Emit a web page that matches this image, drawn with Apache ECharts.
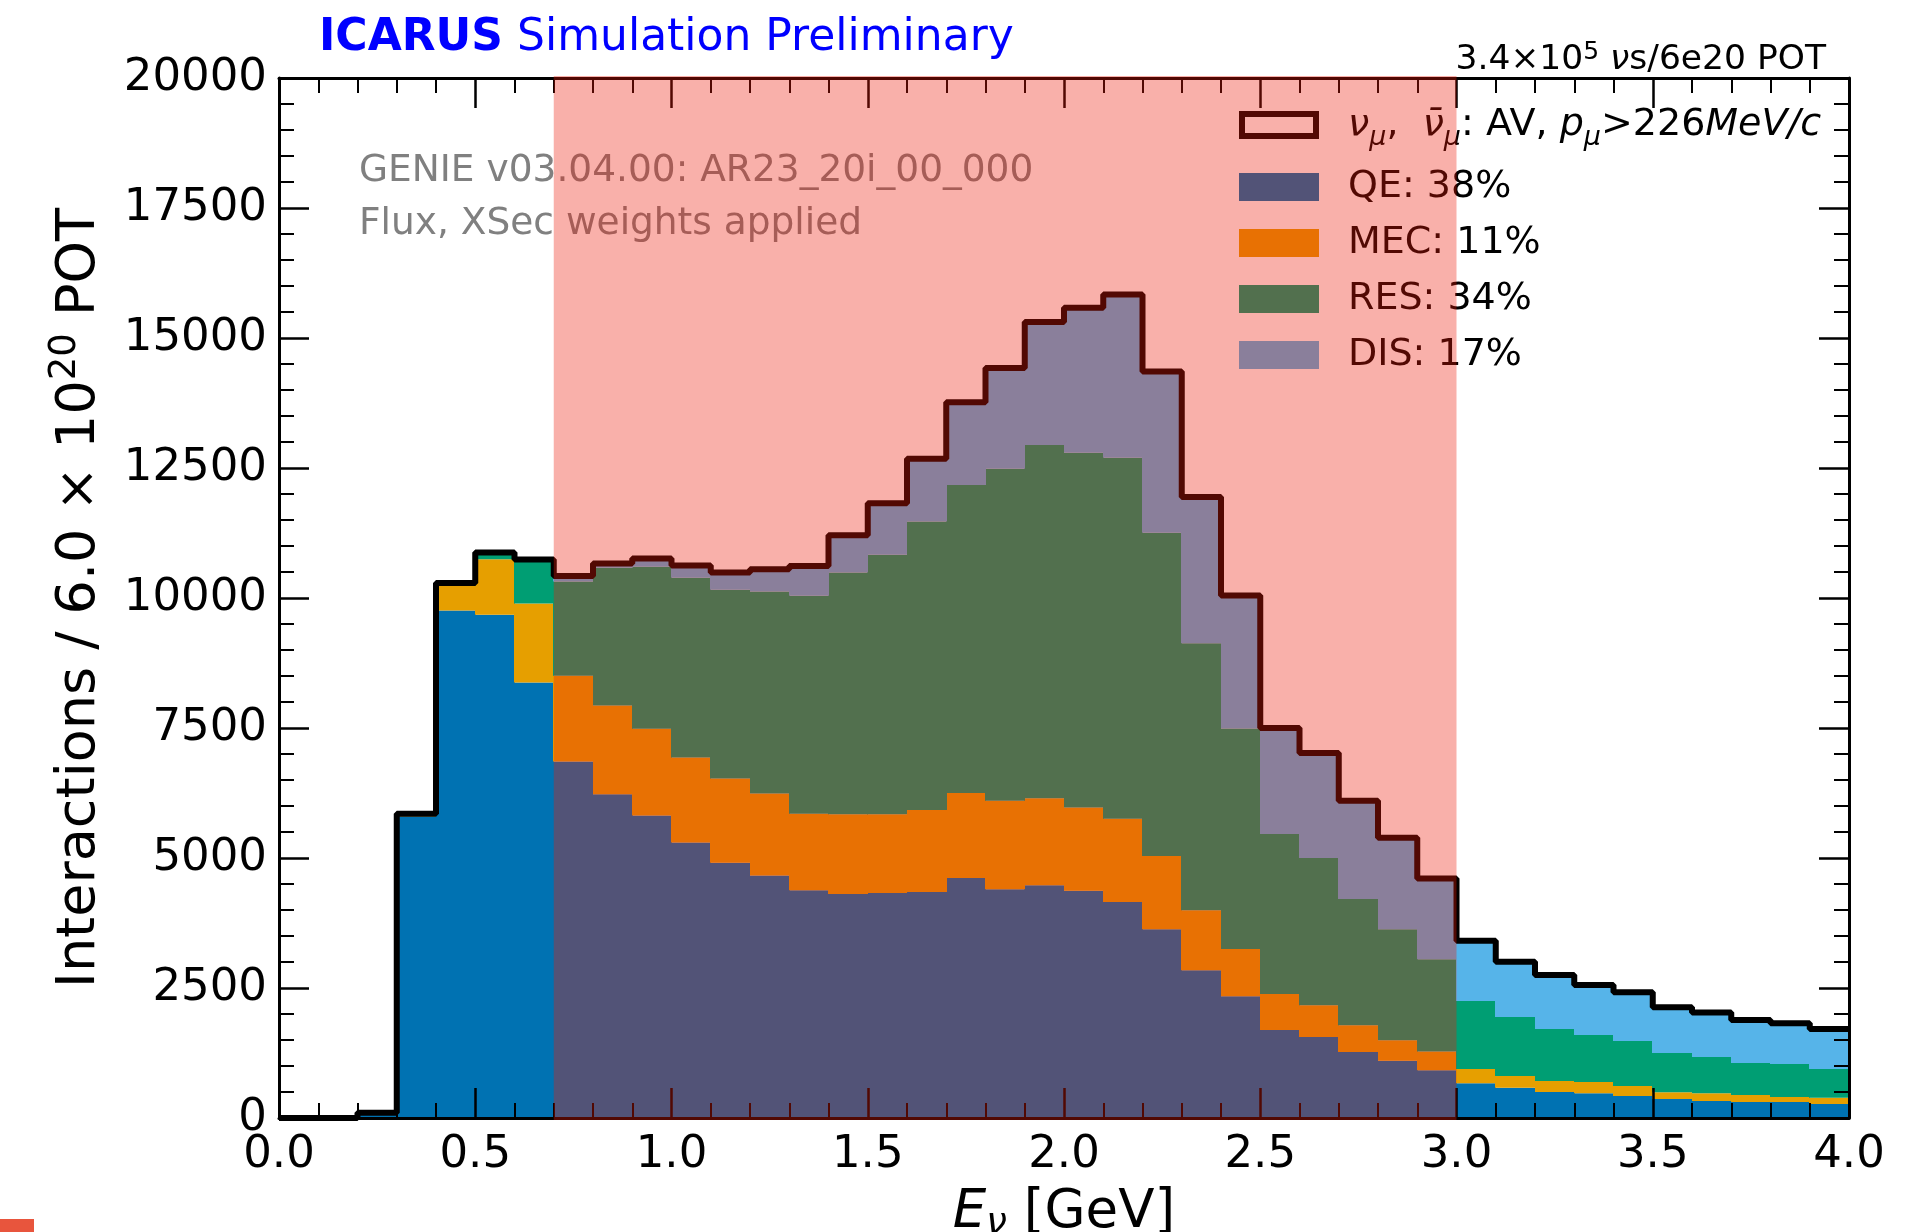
<!DOCTYPE html>
<html><head><meta charset="utf-8">
<script src="https://cdn.jsdelivr.net/npm/echarts@6/dist/echarts.min.js"></script>
<style>html,body{margin:0;padding:0;background:#fff}#c{width:1906px;height:1232px}</style>
</head><body><div id="c"></div>
<script>
// ---- data ----
const binEdges = [0.0,0.1,0.2,0.3,0.4,0.5,0.6,0.7,0.8,0.9,1.0,1.1,1.2,1.3,1.4,1.5,1.6,1.7,1.8,1.9,
  2.0,2.1,2.2,2.3,2.4,2.5,2.6,2.7,2.8,2.9,3.0,3.1,3.2,3.3,3.4,3.5,3.6,3.7,3.8,3.9,4.0];
const qe  = [0,0,90,5800,9760,9680,8375,6855,6225,5815,5300,4910,4665,4380,4310,4325,4345,4615,4400,4475,
  4370,4155,3630,2840,2340,1690,1560,1270,1100,920,667,583,500,474,423,365,327,308,308,269];
const mec = [0,0,10,30,480,1065,1520,1650,1710,1670,1635,1620,1575,1470,1530,1517,1580,1635,1700,1675,
  1600,1600,1410,1155,910,695,610,515,395,360,275,225,211,218,192,130,147,134,96,122];
const res = [0,0,0,20,50,130,845,1810,2645,3115,3455,3630,3885,4195,4650,4988,5545,5925,6385,6790,
  6825,6940,6215,5135,4240,3075,2830,2425,2135,1775,1308,1134,1000,904,866,755,700,616,634,551];
const dis = [0,0,0,0,0,0,0,110,85,160,235,330,430,570,715,993,1207,1590,1940,2370,
  2785,3140,3100,2810,2560,2040,2020,1890,1760,1550,1160,1064,1039,962,936,880,853,827,783,769];
const xTickLabels = ['0.0','0.5','1.0','1.5','2.0','2.5','3.0','3.5','4.0'];
const yTickLabels = ['0','2500','5000','7500','10000','12500','15000','17500','20000'];
const shadedRange = [0.7, 3.0];
const legendNames = ['total','QE','MEC','RES','DIS'];
const legendText = {
  total: '{it|ν}{sub|μ},  {it|ν̄}{sub|μ}: AV, {it|p}{sub|μ}>226{it|MeV/c}',
  QE: 'QE: 38%', MEC: 'MEC: 11%', RES: 'RES: 34%', DIS: 'DIS: 17%'
};
const colors = {QE:'#0072b2', MEC:'#e69f00', RES:'#009e73', DIS:'#56b4e9'};

const layers = [['QE', qe], ['MEC', mec], ['RES', res], ['DIS', dis]];
const total = qe.map((v,i)=> v + mec[i] + res[i] + dis[i]);
const outline = binEdges.map((e,i)=> [e, i < total.length ? total[i] : total[total.length-1]]);

const FF = 'DejaVu Sans';
const chart = echarts.init(document.getElementById('c'), null, {renderer:'canvas'});

function stackSeries(k){
  const [name, vals] = layers[k];
  const color = colors[name];
  const data = vals.map((v,i)=>{
    let lo = 0;
    for (let j = 0; j < k; j++) lo += layers[j][1][i];
    return [binEdges[i], binEdges[i+1], lo, lo + v];
  });
  return {name, type:'custom', xAxisIndex:0, yAxisIndex:0, z:2, silent:true, clip:true,
    itemStyle:{color}, encode:{x:[0,1], y:[2,3]}, data,
    renderItem:(params, api)=>{
      if (api.value(3) - api.value(2) <= 0) return null;
      const a = api.coord([api.value(0), api.value(3)]);
      const b = api.coord([api.value(1), api.value(2)]);
      const x0 = Math.floor(a[0]), x1 = Math.ceil(b[0]);
      return {type:'rect', shape:{x:x0, y:a[1], width:x1 - x0, height:b[1] - a[1]}, style:{fill:color}};
    }};
}
function tickStyle(){
  return {
    axisLine:{show:true, onZero:false, lineStyle:{color:'#000', width:3}},
    axisTick:{show:true, inside:true, length:30, lineStyle:{color:'#000', width:2.5}},
    minorTick:{show:true, splitNumber:5, length:15, lineStyle:{color:'#000', width:2}},
    splitLine:{show:false}, minorSplitLine:{show:false}, z:5
  };
}

chart.setOption({
  animation:false,
  backgroundColor:'#fff',
  grid:{left:279, right:57, top:78, bottom:114, containLabel:false, outerBoundsMode:'none'},
  xAxis:[
    Object.assign(tickStyle(), {type:'value', min:0, max:4, interval:0.5, position:'bottom',
      axisLabel:{show:true, fontSize:45, color:'#000', fontFamily:FF, margin:15, showMinLabel:true, showMaxLabel:true,
        formatter:(v)=> xTickLabels[Math.round(v/0.5)]},
      name:'{it|E}{sub|ν} [GeV]', nameLocation:'middle', nameGap:62,
      nameTextStyle:{fontSize:53, color:'#000', fontFamily:FF, lineHeight:60,
        rich:{it:{fontStyle:'italic', fontSize:53, fontFamily:FF, color:'#000'},
              sub:{fontStyle:'italic', fontSize:37, fontFamily:FF, color:'#000', verticalAlign:'bottom', lineHeight:36}}}
    }),
    Object.assign(tickStyle(), {type:'value', min:0, max:4, interval:0.5, position:'top', axisLabel:{show:false}})
  ],
  yAxis:[
    Object.assign(tickStyle(), {type:'value', min:0, max:20000, interval:2500, position:'left',
      axisLabel:{show:true, fontSize:45, color:'#000', fontFamily:FF, margin:12, showMinLabel:true, showMaxLabel:true,
        formatter:(v)=> yTickLabels[Math.round(v/2500)]},
      name:'Interactions / 6.0 × 10{sup|20} POT', nameLocation:'middle', nameGap:152,
      nameTextStyle:{fontSize:54, color:'#000', fontFamily:FF, lineHeight:66,
        rich:{sup:{fontSize:37, fontFamily:FF, color:'#000', verticalAlign:'top', lineHeight:36}}}
    }),
    Object.assign(tickStyle(), {type:'value', min:0, max:20000, interval:2500, position:'right', axisLabel:{show:false}})
  ],
  legend:{
    orient:'vertical', left:1239, top:99, padding:0, itemWidth:80, itemHeight:28, itemGap:16,
    selectedMode:false, z:4,
    data: legendNames.map(n => n === 'total'
      ? {name:n, icon:'path://M0,0H80V28H0ZM6,6V22H74V6Z', itemStyle:{color:'#000', borderWidth:0}}
      : {name:n, icon:'rect', itemStyle:{color:colors[n], borderWidth:0}}),
    formatter:(n)=> (n === 'total' ? '{g2| }' : '{g| }') + legendText[n],
    textStyle:{fontSize:38, color:'#000', fontFamily:FF, lineHeight:40,
      rich:{g:{width:24, lineHeight:40}, g2:{width:24, lineHeight:52},
            it:{fontStyle:'italic', fontSize:38, fontFamily:FF, color:'#000'},
            sub:{fontStyle:'italic', fontSize:27, fontFamily:FF, color:'#000', verticalAlign:'bottom', lineHeight:34}}}
  },
  graphic:[
    {type:'text', x:319, y:39, z:1, style:{text:'{b|ICARUS} Simulation Preliminary', fontSize:44, fontFamily:FF,
      fill:'#0000ff', align:'left', verticalAlign:'middle',
      rich:{b:{fontWeight:'bold', fontSize:44, fontFamily:FF, fill:'#0000ff'}}}},
    {type:'text', x:1826, y:60, z:1, style:{text:'3.4×10{sup|5} {it|ν}s/6e20 POT', fontSize:34.5, fontFamily:FF,
      fill:'#000', align:'right', verticalAlign:'middle', lineHeight:40,
      rich:{sup:{fontSize:25, fontFamily:FF, fill:'#000', verticalAlign:'top', lineHeight:24},
            it:{fontStyle:'italic', fontSize:34.5, fontFamily:FF, fill:'#000', lineHeight:40}}}},
    {type:'text', x:359, y:171, z:1, style:{text:'GENIE v03.04.00: AR23_20i_00_000', fontSize:37.5, fontFamily:FF,
      fill:'#808080', align:'left', verticalAlign:'middle'}},
    {type:'text', x:359, y:224, z:1, style:{text:'Flux, XSec weights applied', fontSize:37.5, fontFamily:FF,
      fill:'#808080', align:'left', verticalAlign:'middle'}},
    {type:'rect', x:0, y:1219, z:1, shape:{width:34, height:13}, style:{fill:'#e8553d'}}
  ],
  series:[
    stackSeries(0), stackSeries(1), stackSeries(2), stackSeries(3),
    {name:'total', type:'line', xAxisIndex:0, yAxisIndex:0, data:outline, step:'end', symbol:'none',
      lineStyle:{color:'#000', width:6}, itemStyle:{color:'#000'}, z:4, silent:true, emphasis:{disabled:true}},
    {name:'shade', type:'custom', xAxisIndex:0, yAxisIndex:0, z:100, silent:true, clip:false,
      encode:{x:[0,1]},
      data:[[shadedRange[0], shadedRange[1]]],
      renderItem:(params, api)=>{
        const p0 = api.coord([api.value(0), 20000]);
        const p1 = api.coord([api.value(1), 0]);
        return {type:'rect', shape:{x:p0[0], y:p0[1]-2, width:p1[0]-p0[0], height:p1[1]-p0[1]+4},
          style:{fill:'rgba(238,26,9,0.345)'}};
      }}
  ]
});
</script></body></html>
